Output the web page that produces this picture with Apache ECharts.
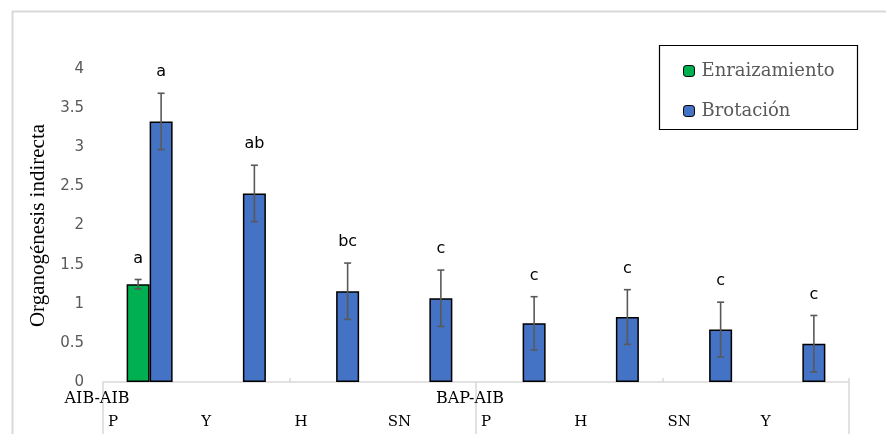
<!DOCTYPE html>
<html><head><meta charset="utf-8">
<script src="https://cdn.jsdelivr.net/npm/echarts@6/dist/echarts.min.js"></script>
<style>html,body{margin:0;padding:0;background:#fff}#c{width:886px;height:434px}</style>
</head><body><div id="c"></div>
<script>
const categories = ['P','Y','H','SN','P','H','SN','Y'];
const groupLabels = ['AIB-AIB','','','','BAP-AIB','','','',''];
const leafLabels = ['P','Y','H','SN','P','H','SN','Y',''];
const enraizamiento = [1.25, null, null, null, null, null, null, null];
const enraizamientoErr = [0.06, null, null, null, null, null, null, null];
const enraizamientoLetters = ['a', '', '', '', '', '', '', ''];
const brotacion = [3.33, 2.41, 1.16, 1.07, 0.75, 0.83, 0.67, 0.49];
const brotacionErr = [0.36, 0.36, 0.36, 0.36, 0.34, 0.35, 0.35, 0.36];
const brotacionLetters = ['a', 'ab', 'bc', 'c', 'c', 'c', 'c', 'c'];

const BAR_W = 23;
function errData(vals, errs, letters) {
  const out = [];
  vals.forEach((v, i) => { if (v != null) out.push([i, v - errs[i], v + errs[i], letters[i]]); });
  return out;
}
function errSeries(vals, errs, letters, side) {
  return {
    type: 'custom', xAxisIndex: 0, yAxisIndex: 0, silent: true, z: 5,
    data: errData(vals, errs, letters),
    encode: { x: 0, y: [1, 2] },
    renderItem: function (params, api) {
      const i = api.value(0);
      const lo = api.coord([i, api.value(1)]);
      const hi = api.coord([i, api.value(2)]);
      const x = lo[0] + side * BAR_W / 2;
      const cap = 3.5;
      const st = { stroke: '#595959', lineWidth: 1.6 };
      return { type: 'group', children: [
        { type: 'line', shape: { x1: x, y1: lo[1], x2: x, y2: hi[1] }, style: st },
        { type: 'line', shape: { x1: x - cap, y1: lo[1], x2: x + cap, y2: lo[1] }, style: st },
        { type: 'line', shape: { x1: x - cap, y1: hi[1], x2: x + cap, y2: hi[1] }, style: st },
        { type: 'text', style: { text: api.value(3), x: x, y: hi[1] - 13, textAlign: 'center', textVerticalAlign: 'bottom',
          font: '16px "DejaVu Sans"', fill: '#000' } }
      ]};
    }
  };
}

const chart = echarts.init(document.getElementById('c'));
chart.setOption({
  animation: false,
  backgroundColor: '#fff',
  grid: { left: 103, right: 37, top: 69, bottom: 52 },
  legend: {
    orient: 'vertical', left: 678, top: 57, itemWidth: 11, itemHeight: 11, itemGap: 22,
    data: ['Enraizamiento', 'Brotación'],
    textStyle: { fontFamily: 'DejaVu Serif', fontSize: 18, color: '#595959', padding: [0, 0, 0, 2] },
    itemStyle: { borderColor: '#000', borderWidth: 1 }
  },
  graphic: [
    { type: 'rect', left: 10, top: 9, shape: { width: 1000, height: 1000 }, style: { fill: 'none', stroke: '#d9d9d9', lineWidth: 2 }, z: -1 },
    { type: 'rect', left: 657, top: 43, shape: { width: 198, height: 84 }, style: { fill: 'none', stroke: '#000', lineWidth: 1.2 }, z: 10 }
  ],
  xAxis: [
    { type: 'category', data: categories, boundaryGap: true,
      axisLine: { show: true, lineStyle: { color: '#d9d9d9', width: 1.5 } },
      axisTick: { show: true, inside: true, length: 4, interval: (i) => i === 2 || i === 6, lineStyle: { color: '#d9d9d9', width: 1.5 } },
      axisLabel: { show: false } },
    { type: 'category', data: groupLabels, boundaryGap: false, position: 'bottom',
      axisLine: { show: false },
      axisTick: { show: true, length: 53, interval: (i) => i % 4 === 0, lineStyle: { color: '#d9d9d9', width: 1.5 } },
      axisLabel: { show: true, interval: 0, margin: 9, padding: [0, 12, 0, 0], fontFamily: 'DejaVu Serif', fontSize: 16, color: '#000' } },
    { type: 'category', data: leafLabels, boundaryGap: false, position: 'bottom',
      axisLine: { show: false }, axisTick: { show: false },
      axisLabel: { show: true, interval: 0, margin: 33, align: 'left', padding: [0, 0, 0, 5], fontFamily: 'DejaVu Serif', fontSize: 15, color: '#000' } }
  ],
  yAxis: {
    type: 'value', min: 0, max: 4, interval: 0.5,
    name: 'Organogénesis indirecta', nameLocation: 'middle', nameGap: 49,
    nameTextStyle: { fontFamily: 'Liberation Serif', fontSize: 21, color: '#000' },
    axisLine: { show: false }, axisTick: { show: false }, splitLine: { show: false },
    axisLabel: { margin: 19, fontFamily: 'DejaVu Sans', fontSize: 15, color: '#595959' }
  },
  series: [
    { name: 'Enraizamiento', type: 'bar', data: enraizamiento, barWidth: BAR_W, barGap: '0%',
      itemStyle: { color: '#00b050', borderColor: '#000', borderWidth: 1.5 } },
    { name: 'Brotación', type: 'bar', data: brotacion, barWidth: BAR_W, barGap: '0%',
      itemStyle: { color: '#4472c4', borderColor: '#000', borderWidth: 1.5 } },
    errSeries(enraizamiento, enraizamientoErr, enraizamientoLetters, -1),
    errSeries(brotacion, brotacionErr, brotacionLetters, 1)
  ]
});
</script></body></html>
